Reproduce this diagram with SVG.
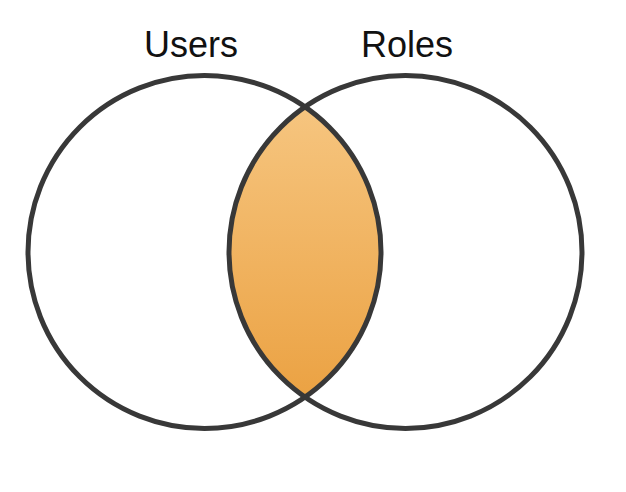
<svg xmlns="http://www.w3.org/2000/svg" width="626" height="492" viewBox="0 0 626 492">
<defs>
<linearGradient id="lensGrad" x1="0" y1="0" x2="0" y2="1">
<stop offset="0" stop-color="#f6c57f"/>
<stop offset="1" stop-color="#eba243"/>
</linearGradient>
<style>
.ring{fill:none;stroke:#383838;stroke-width:5}
.label{font-family:"Liberation Sans",Arial,sans-serif;font-size:36px;fill:#111;text-anchor:middle}
</style>
</defs>
<rect width="626" height="492" fill="#fff"/>
<g id="intersection">
<path d="M305,107.5 A176.5,176.5 0 0 1 305,396.5 A176.5,176.5 0 0 1 305,107.5 Z" fill="url(#lensGrad)"/>
</g>
<g id="users">
<circle class="ring" cx="204.5" cy="252" r="176.5"/>
<text class="label" x="191" y="57">Users</text>
</g>
<g id="roles">
<circle class="ring" cx="405.5" cy="252" r="176.5"/>
<text class="label" x="407" y="57">Roles</text>
</g>
<g id="connectors"/>
</svg>
